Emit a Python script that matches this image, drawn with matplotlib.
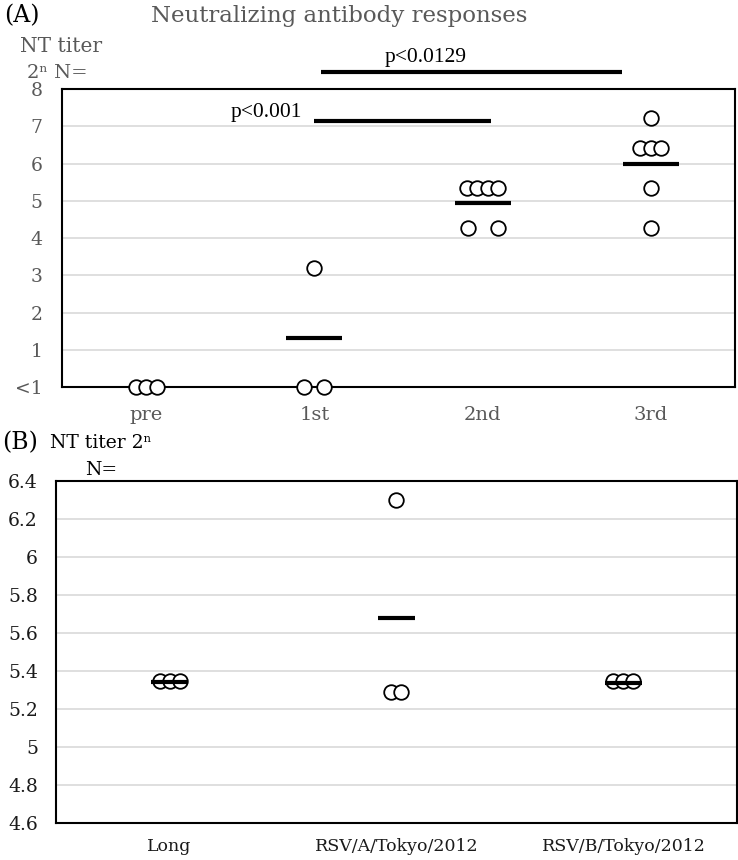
import numpy as np
import matplotlib
matplotlib.use("Agg")
import matplotlib.pyplot as plt

plt.rcParams['font.family'] = ['DejaVu Serif']

# ---- Panel A data (log2 NT titer, <1 plotted at 0)
a_groups = ["pre", "1st", "2nd", "3rd"]
a_pre = [0, 0, 0]
a_1st = [3.2, 0, 0]
a_2nd = [5.35, 5.35, 5.35, 5.35, 4.27, 4.27]
a_3rd = [7.23, 6.42, 6.42, 6.42, 5.34, 4.27]
a_means = [None, 1.32, 4.94, 5.98]
a_yticks = [0, 1, 2, 3, 4, 5, 6, 7, 8]
a_yticklabels = ["<1", "1", "2", "3", "4", "5", "6", "7", "8"]
# significance bars: (x0, x1, y, label)
sig_bars = [(1.0, 2.05, 7.14, "p<0.001"), (1.04, 2.83, 8.45, "p<0.0129")]

# ---- Panel B data
b_groups = ["Long", "RSV/A/Tokyo/2012", "RSV/B/Tokyo/2012"]
b_long = [5.345, 5.345, 5.345]
b_rsva = [6.3, 5.29, 5.29]
b_rsvb = [5.345, 5.345, 5.345]
b_means = [5.34, 5.68, 5.335]
b_yticks = [4.6, 4.8, 5.0, 5.2, 5.4, 5.6, 5.8, 6.0, 6.2, 6.4]
b_yticklabels = ["4.6", "4.8", "5", "5.2", "5.4", "5.6", "5.8", "6", "6.2", "6.4"]

GRAY = "#595959"
GRID = "#d9d9d9"


def spread(vals, step, pair_step=None):
    """x offsets for repeated values, side by side"""
    vals = np.asarray(vals)
    off = np.zeros(len(vals))
    for v in np.unique(vals):
        idx = np.where(vals == v)[0]
        n = len(idx)
        s = pair_step if (n == 2 and pair_step) else step
        off[idx] = (np.arange(n) - (n - 1) / 2) * s
    return off


def dots(ax, x, vals, step, pair_step=None):
    xs = x + spread(vals, step, pair_step)
    ax.plot(xs, vals, 'o', ms=10.5, mfc='white', mec='black', mew=1.3,
            ls='none', clip_on=False, zorder=5)


fig = plt.figure(figsize=(7.38, 8.60), dpi=100)

# ================= Panel A =================
axA = fig.add_axes([0.084, 0.55, 0.912, 0.3465])
axA.set_xlim(-0.5, 3.5)
axA.set_ylim(0, 8)
axA.set_yticks(a_yticks)
axA.set_yticklabels(a_yticklabels)
axA.set_xticks(range(len(a_groups)))
axA.set_xticklabels(a_groups)
axA.tick_params(axis='y', length=0, pad=14, labelsize=13.5, labelcolor=GRAY)
axA.tick_params(axis='x', length=0, pad=14, labelsize=14, labelcolor=GRAY)
axA.yaxis.grid(True, color=GRID, lw=1.2)
axA.set_axisbelow(True)
for sp in axA.spines.values():
    sp.set_linewidth(1.5)
    sp.set_color('black')

step_a = 10.5 / 168.25
dots(axA, 0, a_pre, step_a)
dots(axA, 1, a_1st, step_a, pair_step=20 / 168.25)
dots(axA, 2, a_2nd, step_a, pair_step=30 / 168.25)
dots(axA, 3, a_3rd, step_a)
for i, m in enumerate(a_means):
    if m is not None:
        axA.hlines(m, i - 0.167, i + 0.167, color='black', lw=3, zorder=6)

for x0, x1, y, lab in sig_bars:
    axA.hlines(y, x0, x1, color='black', lw=3, clip_on=False, zorder=6)
axA.text(sig_bars[0][0] - 0.075, sig_bars[0][2] - 0.02, sig_bars[0][3],
         ha='right', va='bottom', fontsize=15.5, family='Liberation Serif')
axA.text(sig_bars[1][0] + 0.62, sig_bars[1][2] + 0.14,
         sig_bars[1][3], ha='center', va='bottom', fontsize=15.5,
         family='Liberation Serif', clip_on=False)

fig.text(0.005, 1 - 16 / 860, "(A)", fontsize=17, va='center', ha='left')
fig.text(0.46, 1 - 16 / 860, "Neutralizing antibody responses", fontsize=16.5,
         color=GRAY, va='center', ha='center')
fig.text(0.027, 1 - 46 / 860, "NT titer", fontsize=14.5, color=GRAY,
         va='center', ha='left')
fig.text(0.037, 1 - 73 / 860, "2\u207f N=", fontsize=14, color=GRAY,
         va='center', ha='left')

# ================= Panel B =================
axB = fig.add_axes([0.0759, 0.043, 0.9227, 0.3977])
axB.set_xlim(-0.5, 2.5)
axB.set_ylim(4.6, 6.4)
axB.set_yticks(b_yticks)
axB.set_yticklabels(b_yticklabels)
axB.set_xticks(range(len(b_groups)))
axB.set_xticklabels(b_groups)
axB.tick_params(axis='y', length=0, pad=13, labelsize=13.5, labelcolor='#1a1a1a')
axB.tick_params(axis='x', length=0, pad=11, labelsize=12.5, labelcolor='#1a1a1a')
axB.yaxis.grid(True, color=GRID, lw=1.2)
axB.set_axisbelow(True)
for sp in axB.spines.values():
    sp.set_linewidth(1.5)
    sp.set_color('black')

step_b = 10 / 227.0
dots(axB, 0, b_long, step_b)
dots(axB, 1, b_rsva, step_b)
dots(axB, 2, b_rsvb, step_b)
for i, m in enumerate(b_means):
    axB.hlines(m, i - 0.082, i + 0.082, color='black', lw=3, zorder=6)

fig.text(0.003, 1 - 443 / 860, "(B)", fontsize=17, va='center', ha='left')
fig.text(0.068, 1 - 443 / 860, "NT titer 2\u207f", fontsize=13.5,
         va='center', ha='left')
fig.text(0.115, 1 - 470 / 860, "N=", fontsize=13.5, va='center', ha='left')

fig.savefig("out.png", dpi=100)
